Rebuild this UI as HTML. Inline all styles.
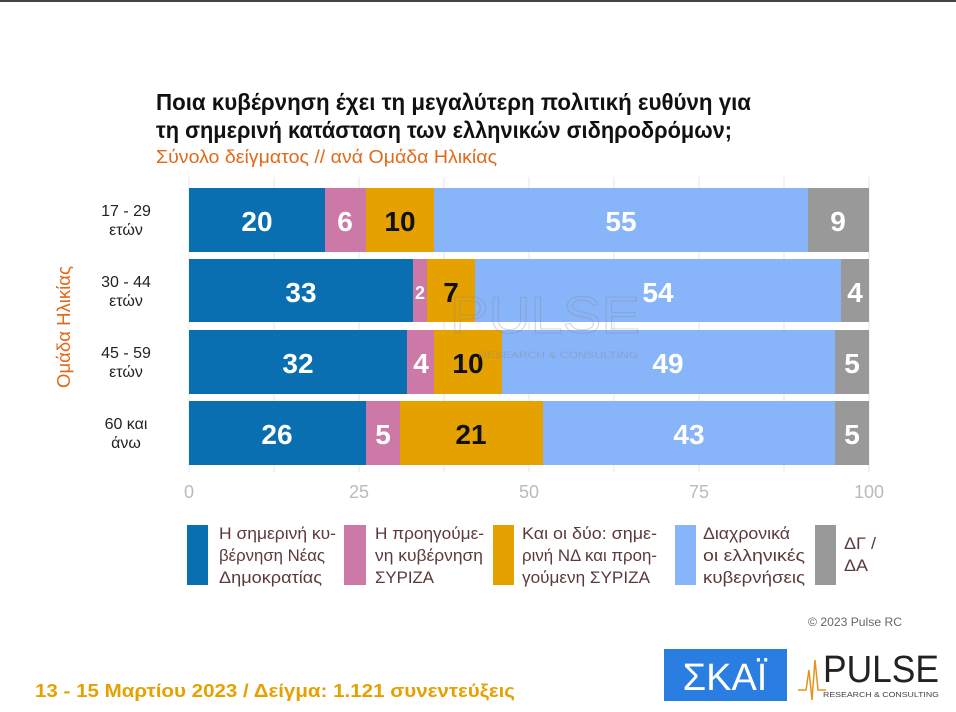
<!DOCTYPE html>
<html><head><meta charset="utf-8"><style>
html,body{margin:0;padding:0;background:#fff;}
svg{display:block;}
text{font-family:"Liberation Sans",sans-serif;}
</style></head><body>
<svg width="956" height="712" viewBox="0 0 956 712">
<rect x="0" y="0" width="956" height="2" fill="#444"/>
<text x="156" y="110" font-size="23" font-weight="bold" fill="#111" textLength="595" lengthAdjust="spacingAndGlyphs">Ποια κυβέρνηση έχει τη μεγαλύτερη πολιτική ευθύνη για</text>
<text x="156" y="138" font-size="23" font-weight="bold" fill="#111" textLength="576" lengthAdjust="spacingAndGlyphs">τη σημερινή κατάσταση των ελληνικών σιδηροδρόμων;</text>
<text x="156" y="163" font-size="18" fill="#e06a1a" textLength="341" lengthAdjust="spacingAndGlyphs">Σύνολο δείγματος // ανά Ομάδα Ηλικίας</text>
<g stroke="#e6e6e6" stroke-width="1">
<line x1="189" y1="177" x2="189" y2="472"/><line x1="274" y1="177" x2="274" y2="472"/><line x1="359" y1="177" x2="359" y2="472"/><line x1="444" y1="177" x2="444" y2="472"/><line x1="529" y1="177" x2="529" y2="472"/><line x1="614" y1="177" x2="614" y2="472"/><line x1="699" y1="177" x2="699" y2="472"/><line x1="784" y1="177" x2="784" y2="472"/><line x1="869" y1="177" x2="869" y2="472"/>
</g>
<g font-weight="bold" font-size="28" text-anchor="middle" fill="#fff">
<rect x="189" y="188" width="136" height="64" fill="#0a6fb0"/>
<rect x="325" y="188" width="41" height="64" fill="#cc79a7"/>
<rect x="366" y="188" width="68" height="64" fill="#e5a100"/>
<rect x="434" y="188" width="374" height="64" fill="#88b4fa"/>
<rect x="808" y="188" width="61" height="64" fill="#999"/>
<text x="257" y="231">20</text><text x="345" y="231">6</text><text x="400" y="231" fill="#111">10</text><text x="621" y="231">55</text><text x="838" y="231">9</text>
<rect x="189" y="259" width="224" height="63" fill="#0a6fb0"/>
<rect x="413" y="259" width="14" height="63" fill="#cc79a7"/>
<rect x="427" y="259" width="48" height="63" fill="#e5a100"/>
<rect x="475" y="259" width="366" height="63" fill="#88b4fa"/>
<rect x="841" y="259" width="28" height="63" fill="#999"/>
<text x="301" y="302">33</text><text x="420" y="299" font-size="18">2</text><text x="451" y="302" fill="#111">7</text><text x="658" y="302">54</text><text x="855" y="302">4</text>
<rect x="189" y="330" width="218" height="64" fill="#0a6fb0"/>
<rect x="407" y="330" width="27" height="64" fill="#cc79a7"/>
<rect x="434" y="330" width="68" height="64" fill="#e5a100"/>
<rect x="502" y="330" width="333" height="64" fill="#88b4fa"/>
<rect x="835" y="330" width="34" height="64" fill="#999"/>
<text x="298" y="373">32</text><text x="421" y="373">4</text><text x="468" y="373" fill="#111">10</text><text x="668" y="373">49</text><text x="852" y="373">5</text>
<rect x="189" y="401" width="177" height="64" fill="#0a6fb0"/>
<rect x="366" y="401" width="34" height="64" fill="#cc79a7"/>
<rect x="400" y="401" width="143" height="64" fill="#e5a100"/>
<rect x="543" y="401" width="292" height="64" fill="#88b4fa"/>
<rect x="835" y="401" width="34" height="64" fill="#999"/>
<text x="277" y="444">26</text><text x="383" y="444">5</text><text x="471" y="444" fill="#111">21</text><text x="689" y="444">43</text><text x="852" y="444">5</text>
</g>
<text x="450" y="333" font-size="52" fill="none" stroke="#888" stroke-width="1" opacity="0.35" textLength="190" lengthAdjust="spacingAndGlyphs">PULSE</text>
<text x="478" y="358" font-size="9" fill="#888" opacity="0.4" textLength="160" lengthAdjust="spacingAndGlyphs">RESEARCH &amp; CONSULTING</text>
<g font-size="16" fill="#222" text-anchor="middle">
<text x="126" y="216">17 - 29</text><text x="126" y="235">ετών</text>
<text x="126" y="287">30 - 44</text><text x="126" y="306">ετών</text>
<text x="126" y="358">45 - 59</text><text x="126" y="377">ετών</text>
<text x="126" y="429">60 και</text><text x="126" y="448">άνω</text>
</g>
<text transform="translate(70,327) rotate(-90)" font-size="18" fill="#e06a1a" text-anchor="middle" textLength="122" lengthAdjust="spacingAndGlyphs">Ομάδα Ηλικίας</text>
<g font-size="18" fill="#bbb" text-anchor="middle">
<text x="189" y="498">0</text><text x="359" y="498">25</text><text x="529" y="498">50</text><text x="699" y="498">75</text><text x="869" y="498">100</text>
</g>
<rect x="187" y="525" width="21" height="60" fill="#0a6fb0"/>
<rect x="344" y="525" width="22" height="60" fill="#cc79a7"/>
<rect x="493" y="525" width="21" height="60" fill="#e5a100"/>
<rect x="675" y="525" width="21" height="60" fill="#88b4fa"/>
<rect x="815" y="525" width="21" height="60" fill="#999"/>
<g font-size="17" fill="#5a3a3a" lengthAdjust="spacingAndGlyphs">
<text x="219" y="539" textLength="117" lengthAdjust="spacingAndGlyphs">Η σημερινή κυ-</text><text x="219" y="561" textLength="106" lengthAdjust="spacingAndGlyphs">βέρνηση Νέας</text><text x="219" y="583" textLength="103" lengthAdjust="spacingAndGlyphs">Δημοκρατίας</text>
<text x="375" y="539" textLength="109" lengthAdjust="spacingAndGlyphs">Η προηγούμε-</text><text x="375" y="561" textLength="108" lengthAdjust="spacingAndGlyphs">νη κυβέρνηση</text><text x="375" y="583" textLength="59" lengthAdjust="spacingAndGlyphs">ΣΥΡΙΖΑ</text>
<text x="522" y="539" textLength="135" lengthAdjust="spacingAndGlyphs">Και οι δύο: σημε-</text><text x="522" y="561" textLength="135" lengthAdjust="spacingAndGlyphs">ρινή ΝΔ και προη-</text><text x="522" y="583" textLength="128" lengthAdjust="spacingAndGlyphs">γούμενη ΣΥΡΙΖΑ</text>
<text x="703" y="539" textLength="87" lengthAdjust="spacingAndGlyphs">Διαχρονικά</text><text x="703" y="561" textLength="102" lengthAdjust="spacingAndGlyphs">οι ελληνικές</text><text x="703" y="583" textLength="102" lengthAdjust="spacingAndGlyphs">κυβερνήσεις</text>
<text x="844" y="549" textLength="32" lengthAdjust="spacingAndGlyphs">ΔΓ /</text><text x="844" y="571" textLength="24" lengthAdjust="spacingAndGlyphs">ΔΑ</text>
</g>
<text x="808" y="626" font-size="12" fill="#666" textLength="94" lengthAdjust="spacingAndGlyphs">© 2023 Pulse RC</text>
<rect x="664" y="649" width="123" height="52" fill="#2a7de1"/>
<text x="725" y="690" font-size="38" fill="#fff" text-anchor="middle">ΣΚΑΪ</text>
<polyline points="798,690 806,690 809,670 812,700 815,660 818,690 826,690" fill="none" stroke="#e5941a" stroke-width="1.5"/>
<text x="823" y="682" font-size="38" fill="#222" textLength="116" lengthAdjust="spacingAndGlyphs">PULSE</text>
<text x="823" y="697" font-size="7" fill="#444" textLength="116" lengthAdjust="spacingAndGlyphs">RESEARCH &amp; CONSULTING</text>
<text x="35" y="697" font-size="18" font-weight="bold" fill="#e5a100" textLength="480" lengthAdjust="spacingAndGlyphs">13 - 15  Μαρτίου  2023  /  Δείγμα:  1.121 συνεντεύξεις</text>
</svg>
</body></html>
